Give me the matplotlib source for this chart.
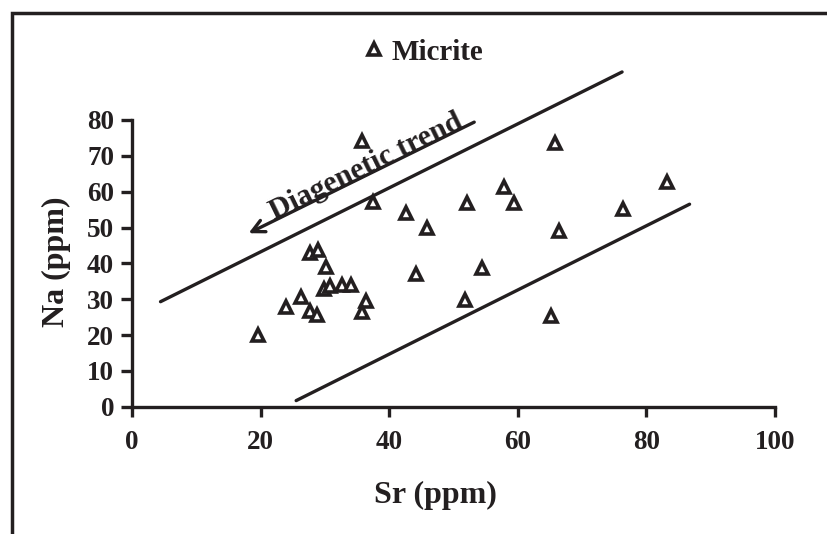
import matplotlib.pyplot as plt
from matplotlib.patches import Rectangle

# Micrite samples (Sr vs Na, ppm)
sr = [19.5, 23.9, 26.3, 27.6, 28.8, 27.7, 28.9, 30.1, 29.9, 30.8, 32.6, 34.1,
      36.3, 35.7, 35.8, 37.5, 42.6, 45.8, 44.2, 52.0, 54.4, 51.8, 57.9, 59.4,
      65.8, 83.2, 76.3, 66.4, 65.2]
na = [20.0, 27.7, 30.7, 26.8, 25.6, 42.8, 43.7, 39.1, 32.8, 33.6, 34.0, 34.0,
      29.6, 26.5, 74.0, 57.2, 54.0, 49.8, 37.0, 56.8, 38.6, 29.8, 61.4, 56.8,
      73.7, 62.8, 55.1, 49.0, 25.3]

# envelope lines and trend arrow (data coords)
upper_x, upper_y = [4.4, 76.2], [29.3, 93.4]
lower_x, lower_y = [25.5, 86.7], [1.7, 56.5]
arrow_start = (53.2, 79.4)
arrow_end = (18.1, 48.4)

xticks = [0, 20, 40, 60, 80, 100]
yticks = [0, 10, 20, 30, 40, 50, 60, 70, 80]

ink = '#231f20'
plt.rcParams['font.family'] = ['Liberation Serif', 'DejaVu Serif']
plt.rcParams['font.weight'] = 'bold'

fig = plt.figure(figsize=(8.27, 5.34), dpi=100)
ax = fig.add_axes([0.1599, 0.2384, 0.7773, 0.5369])

# outer frame, only left and top edges visible
fig.patches.append(Rectangle((11.5 / 827, -0.5), 2.0, 1.5 - 13 / 534,
                             transform=fig.transFigure, fill=False,
                             edgecolor=ink, linewidth=2.5))

ax.plot(sr, na, linestyle='none', marker='^', markersize=9,
        markerfacecolor='white', markeredgecolor=ink, markeredgewidth=2.6,
        label='Micrite', clip_on=False)

ax.plot(upper_x, upper_y, color=ink, lw=2.4, clip_on=False, solid_capstyle='round')
ax.plot(lower_x, lower_y, color=ink, lw=2.4, clip_on=False, solid_capstyle='round')
ax.annotate('', xy=arrow_end, xytext=arrow_start,
            arrowprops=dict(arrowstyle='->,head_length=0.9,head_width=0.45',
                            color=ink, lw=2.4, shrinkA=0, shrinkB=0),
            annotation_clip=False)
ax.text(36.3, 67.0, 'Diagenetic trend', rotation=26, rotation_mode='anchor',
        ha='center', va='center', fontsize=21.5, fontweight='bold', color=ink)

ax.set_xlim(0, 100)
ax.set_ylim(0, 80)
ax.set_xticks(xticks)
ax.set_yticks(yticks)
for s in ['top', 'right']:
    ax.spines[s].set_visible(False)
for s in ['left', 'bottom']:
    ax.spines[s].set_linewidth(2.4)
    ax.spines[s].set_color(ink)
ax.tick_params(axis='y', direction='out', length=8, width=2.4, color=ink,
               pad=5, labelsize=19.5, labelcolor=ink)
ax.tick_params(axis='x', direction='out', length=7, width=2.4, color=ink,
               pad=10, labelsize=19.5, labelcolor=ink)
for lab in ax.get_xticklabels() + ax.get_yticklabels():
    lab.set_fontweight('bold')

ax.text(0.471, -0.308, 'Sr (ppm)', transform=ax.transAxes, ha='center',
        va='center', fontsize=23, fontweight='bold', color=ink)
ax.text(-0.118, 0.505, 'Na (ppm)', transform=ax.transAxes, ha='center',
        va='center', rotation=90, fontsize=23, fontweight='bold', color=ink)

leg = ax.legend(loc='center', bbox_to_anchor=(0.513, 0.9026),
                bbox_transform=fig.transFigure, frameon=False,
                handlelength=0.6, handletextpad=0.3, borderpad=0,
                prop={'size': 21, 'weight': 'bold'})
for t in leg.get_texts():
    t.set_color(ink)

fig.savefig('out.png', dpi=100)
